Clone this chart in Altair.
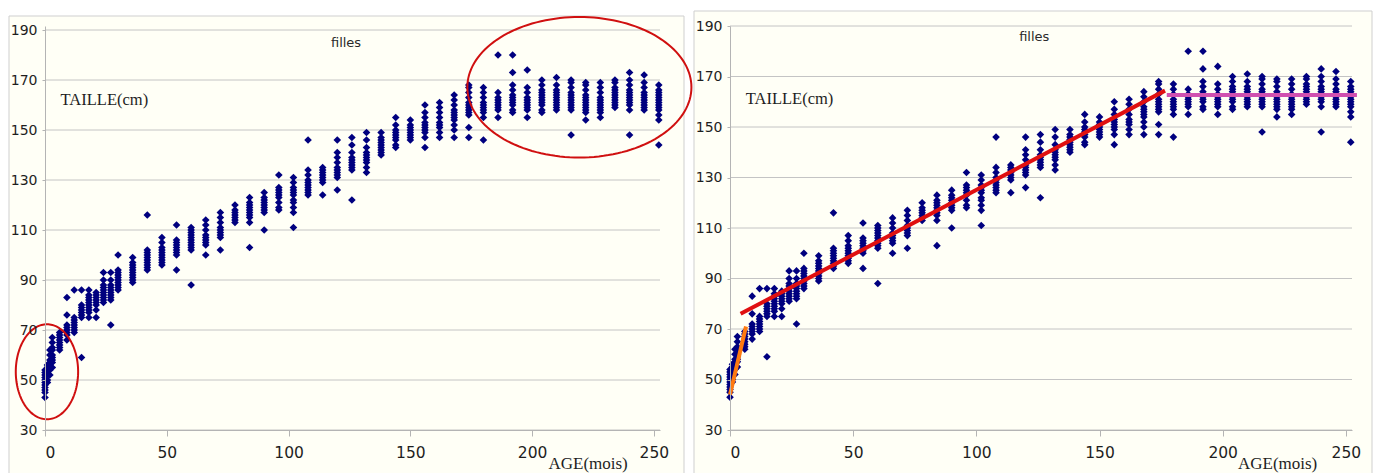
import altair as alt
import pandas as pd
import numpy as np

# ---------------- data ----------------
AGES = [0, 1, 2, 3, 6, 9, 12, 15, 18, 21, 24, 27, 30, 36, 42, 48, 54, 60, 66, 72,
        78, 84, 90, 96, 102, 108, 114, 120, 126, 132, 138, 144, 150, 156, 162, 168,
        174, 180, 186, 192, 198, 204, 210, 216, 222, 228, 234, 240, 246, 252]

TAILLES = [
    [43, 45, 46, 47, 48, 49, 50, 51, 52, 53, 54],
    [49, 50, 52, 53, 54, 55, 56],
    [52, 54, 55, 56, 57, 58, 60, 62],
    [55, 57, 58, 59, 60, 62, 63, 65, 67],
    [62, 63, 64, 65, 66, 67, 68, 69],
    [66, 68, 69, 70, 71, 72, 76, 83],
    [69, 70, 71, 72, 73, 74, 75, 86],
    [59, 75, 76, 77, 78, 79, 80, 86],
    [75, 77, 78, 79, 80, 81, 82, 83, 84, 86],
    [75, 78, 80, 81, 82, 83, 84, 85],
    [81, 82, 83, 84, 85, 86, 87, 88, 90, 93],
    [72, 82, 83, 84, 85, 86, 87, 88, 90, 93],
    [86, 87, 88, 89, 90, 91, 92, 93, 94, 100],
    [89, 90, 91, 92, 93, 94, 95, 96, 97, 99],
    [94, 95, 96, 97, 98, 99, 100, 101, 102, 116],
    [96, 97, 98, 99, 100, 101, 102, 103, 105, 107],
    [94, 100, 101, 102, 103, 104, 105, 106, 112],
    [88, 102, 103, 104, 105, 106, 107, 108, 109, 110, 111],
    [100, 104, 105, 106, 107, 108, 110, 112, 114],
    [102, 107, 108, 109, 110, 111, 113, 115, 117],
    [113, 114, 115, 116, 117, 118, 120],
    [103, 113, 115, 116, 117, 118, 119, 120, 121, 123],
    [110, 117, 118, 119, 120, 121, 122, 123, 125],
    [118, 119, 121, 123, 124, 125, 126, 127, 132],
    [111, 117, 119, 121, 122, 124, 125, 126, 127, 129, 131],
    [124, 125, 126, 127, 128, 129, 130, 132, 134, 146],
    [124, 129, 130, 131, 132, 133, 134, 135],
    [126, 131, 132, 133, 134, 135, 137, 139, 141, 146],
    [122, 134, 135, 136, 137, 138, 139, 141, 144, 147],
    [133, 135, 137, 138, 139, 140, 141, 143, 146, 149],
    [140, 141, 142, 143, 144, 145, 146, 147, 149],
    [143, 144, 146, 147, 148, 149, 150, 152, 155],
    [146, 147, 148, 149, 150, 151, 152, 154],
    [143, 147, 149, 150, 151, 152, 153, 155, 157, 160],
    [147, 149, 151, 152, 153, 155, 157, 159, 161],
    [147, 150, 152, 154, 155, 156, 157, 158, 160, 162, 164],
    [147, 151, 156, 157, 158, 159, 160, 161, 163, 165, 167, 168],
    [146, 155, 157, 158, 159, 160, 161, 163, 165, 167],
    [155, 158, 159, 160, 161, 162, 163, 165, 180],
    [157, 158, 160, 161, 162, 163, 164, 166, 168, 173, 180],
    [155, 158, 159, 160, 161, 162, 163, 165, 167, 174],
    [157, 158, 160, 161, 162, 163, 164, 165, 166, 168, 170],
    [158, 159, 160, 161, 162, 163, 164, 165, 166, 168, 171],
    [148, 158, 159, 160, 161, 162, 163, 164, 165, 167, 169, 170],
    [154, 157, 158, 159, 160, 161, 162, 163, 164, 166, 168, 169],
    [155, 157, 158, 159, 160, 161, 162, 163, 165, 167, 169],
    [159, 160, 161, 162, 163, 164, 165, 166, 167, 169, 170],
    [148, 158, 160, 161, 162, 163, 164, 165, 166, 168, 170, 173],
    [158, 159, 160, 161, 162, 163, 164, 165, 167, 169, 172],
    [144, 154, 156, 158, 159, 160, 161, 162, 163, 164, 165, 166, 168],
]

X_TICKS = [0, 50, 100, 150, 200, 250]
Y_TICKS = [30, 50, 70, 90, 110, 130, 150, 170, 190]

# fitted segments (right panel)
SEG_ORANGE_AGE = [0, 6.5]
SEG_ORANGE_H = [44, 71]
SEG_RED_AGE = [4.3, 176.6]
SEG_RED_H = [76, 164.4]
SEG_MAGENTA_AGE = [177.3, 254.5]
SEG_MAGENTA_H = [162.7, 162.7]

# highlighted zones (left panel): centre and half-axes
ELL_CX = [0.8, 219.4]
ELL_CY = [53.3, 167.1]
ELL_RX = [12.8, 46.0]
ELL_RY = [19.0, 28.1]

# ---------------- tables ----------------
pts = pd.DataFrame([{"age": a, "taille": t} for a, hs in zip(AGES, TAILLES) for t in hs])
grid = pd.DataFrame({"g": Y_TICKS})

theta = np.linspace(0, 2 * np.pi, 145)
ell_rows = []
for k, (cx, cy, rx, ry) in enumerate(zip(ELL_CX, ELL_CY, ELL_RX, ELL_RY)):
    for i, th in enumerate(theta):
        ell_rows.append({"age": cx + rx * np.cos(th), "taille": cy + ry * np.sin(th), "o": i, "grp": k})
ell = pd.DataFrame(ell_rows)

segs = pd.DataFrame(
    [{"age": a, "taille": h, "seg": "o", "o": i} for i, (a, h) in enumerate(zip(SEG_ORANGE_AGE, SEG_ORANGE_H))]
    + [{"age": a, "taille": h, "seg": "r", "o": i} for i, (a, h) in enumerate(zip(SEG_RED_AGE, SEG_RED_H))]
    + [{"age": a, "taille": h, "seg": "m", "o": i} for i, (a, h) in enumerate(zip(SEG_MAGENTA_AGE, SEG_MAGENTA_H))]
)

GRID_C = "#c4c4c4"
AX_C = "#b4b4b4"


def panel(width, ydom, frame, texts, extra):
    xs = alt.Scale(domain=[0, 252.5], nice=False, zero=False)
    ys = alt.Scale(domain=ydom, nice=False, zero=False)
    xaxis = alt.Axis(values=X_TICKS, grid=False, title=None, labelFont="DejaVu Sans",
                     labelFontSize=15.5, labelColor="#1e1e1e", tickSize=6, tickColor=AX_C,
                     domainColor=AX_C, labelPadding=9, zindex=1)
    yaxis = alt.Axis(values=Y_TICKS, grid=False, title=None, labelFont="DejaVu Sans",
                     labelFontSize=14, labelColor="#1e1e1e", tickSize=3, tickColor=AX_C,
                     domainColor=AX_C, labelPadding=5, zindex=1)

    X = lambda f="age": alt.X(f + ":Q", scale=xs, axis=xaxis)
    Y = lambda f="taille": alt.Y(f + ":Q", scale=ys, axis=yaxis)

    frame_rect = alt.Chart(alt.Data(values=[{"k": 1}])).mark_rect(
        fill="#fffff6", stroke="#cfcfcf", strokeWidth=1
    ).encode(x=alt.value(frame[0]), x2=alt.value(frame[1]),
             y=alt.value(frame[2]), y2=alt.value(frame[3]))

    rules = alt.Chart(grid).mark_rule(color=GRID_C, strokeWidth=1).encode(y=Y("g"))

    points = alt.Chart(pts).mark_point(
        shape="diamond", filled=True, color="#00007f", size=58, opacity=1
    ).encode(x=X(), y=Y())

    text_layers = []
    for (txt, a, h, font, size, align, color) in texts:
        tdf = pd.DataFrame({"age": [a], "taille": [h], "t": [txt]})
        text_layers.append(
            alt.Chart(tdf).mark_text(font=font, fontSize=size, align=align,
                                     baseline="alphabetic", color=color)
            .encode(x=X(), y=Y(), text="t:N")
        )

    extra_layers = [e(X, Y) for e in extra]
    return alt.layer(frame_rect, rules, points, *extra_layers, *text_layers).properties(
        width=width, height=404
    )


def ellipses(X, Y):
    return alt.Chart(ell).mark_line(color="#d01010", strokeWidth=2, clip=False).encode(
        x=X(), y=Y(), order="o:Q", detail="grp:N"
    )


def seg_layer(code, color):
    def f(X, Y):
        return alt.Chart(segs[segs.seg == code]).mark_line(
            color=color, strokeWidth=4, clip=False
        ).encode(x=X(), y=Y(), order="o:Q")
    return f


left = panel(
    615, [30, 191.6], (-36, 639, -10, 452),
    [("filles", 123.6, 183.2, "DejaVu Sans", 13, "center", "#2a2a2a"),
     ("TAILLE(cm)", 6.4, 160, "Liberation Serif", 16.5, "left", "#1e1e1e"),
     ("AGE(mois)", 206.7, 14.4, "Liberation Serif", 17, "left", "#1e1e1e")],
    [ellipses],
)

right = panel(
    622, [30, 190], (-36, 642, -15, 452),
    [("filles", 123.5, 184.1, "DejaVu Sans", 13, "center", "#2a2a2a"),
     ("TAILLE(cm)", 6.4, 159.1, "Liberation Serif", 16.5, "left", "#1e1e1e"),
     ("AGE(mois)", 206.2, 14.55, "Liberation Serif", 17, "left", "#1e1e1e")],
    [seg_layer("o", "#ff7a10"), seg_layer("r", "#e01010"), seg_layer("m", "#d050b0")],
)

chart = alt.hconcat(left, right, spacing=70, bounds="flush").properties(
    padding={"left": 0, "top": 2, "right": 0, "bottom": 0},
    background="white",
).configure_view(stroke=None)

chart.save("out.html", embed_options={"renderer": "svg", "actions": False})
